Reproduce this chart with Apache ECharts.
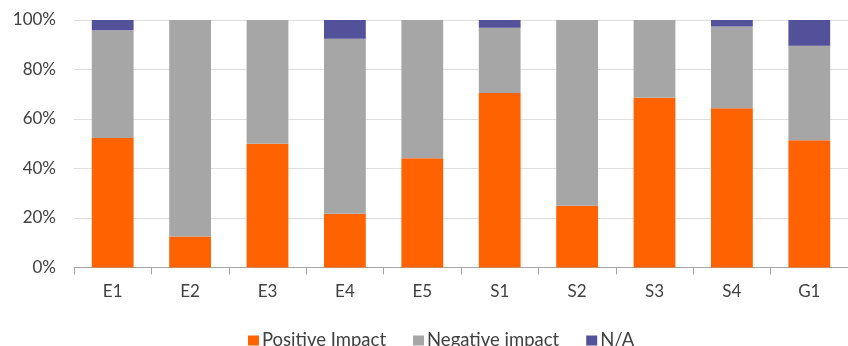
<!DOCTYPE html>
<html>
<head>
<meta charset="utf-8">
<script src="https://cdn.jsdelivr.net/npm/echarts@6/dist/echarts.min.js"></script>
<style>
  html, body { margin: 0; padding: 0; background: #ffffff; }
  #chart { width: 848px; height: 346px; }
</style>
</head>
<body>
<div id="chart"></div>
<script>
// ESG pillars
const categories = ['E1', 'E2', 'E3', 'E4', 'E5', 'S1', 'S2', 'S3', 'S4', 'G1'];
// Share of responses, percent
const positiveImpact = [52.3, 12.5, 50.0, 21.7, 44.1, 70.5, 25.0, 68.6, 64.3, 51.4];
const negativeImpact = [43.6, 87.5, 50.0, 70.7, 55.9, 26.4, 75.0, 31.4, 33.1, 38.2];
const notApplicable  = [4.1, 0, 0, 7.6, 0, 3.1, 0, 0, 2.6, 10.4];
const yTicks = [0, 20, 40, 60, 80, 100];

const seriesNames = ['Positive Impact', 'Negative impact', 'N/A'];
const colors = ['#ff6200', '#a6a6a6', '#525199'];
const textColor = '#404040';
const fontFamily = 'Lato, "Open Sans", sans-serif';

const chart = echarts.init(document.getElementById('chart'), null, { renderer: 'canvas' });

const makeSeries = (name, data, color) => ({
  name: name,
  type: 'bar',
  stack: 'total',
  barWidth: '54%',
  data: data,
  itemStyle: { color: color },
  emphasis: { disabled: true }
});

chart.setOption({
  animation: false,
  textStyle: { fontFamily: fontFamily },
  grid: { left: 74, top: 20, width: 783, height: 247.5, containLabel: false },
  legend: {
    data: seriesNames,
    left: 248,
    top: 331,
    padding: 0,
    itemWidth: 11,
    itemHeight: 10,
    itemGap: 27,
    icon: 'rect',
    textStyle: { color: textColor, fontSize: 18.5, fontFamily: fontFamily, padding: [0, 0, 0, -2] }
  },
  xAxis: {
    type: 'category',
    data: categories,
    axisLine: { lineStyle: { color: '#a6a6a6', width: 1 } },
    axisTick: { show: true, length: 7, lineStyle: { color: '#a6a6a6' } },
    axisLabel: { color: textColor, fontSize: 17, margin: 16, fontFamily: fontFamily }
  },
  yAxis: {
    type: 'value',
    min: yTicks[0],
    max: yTicks[yTicks.length - 1],
    interval: yTicks[1] - yTicks[0],
    axisLine: { show: false },
    axisTick: { show: false },
    axisLabel: { color: textColor, fontSize: 17, margin: 18, fontFamily: fontFamily, formatter: '{value}%' },
    splitLine: { lineStyle: { color: '#dedede', width: 1 } }
  },
  series: [
    makeSeries(seriesNames[0], positiveImpact, colors[0]),
    makeSeries(seriesNames[1], negativeImpact, colors[1]),
    makeSeries(seriesNames[2], notApplicable, colors[2])
  ]
});
</script>
</body>
</html>
